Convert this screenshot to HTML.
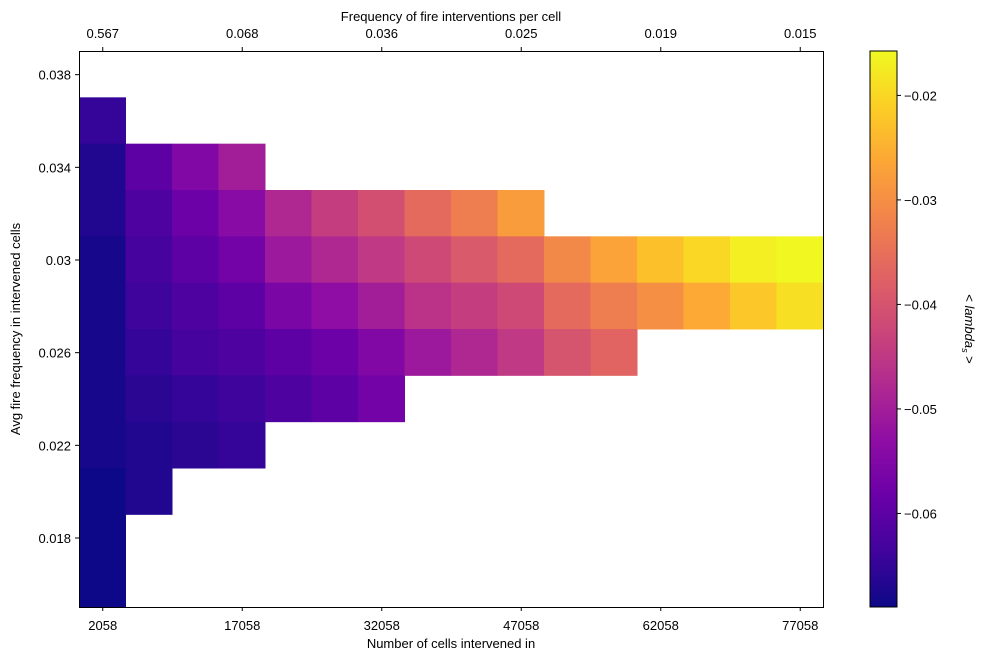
<!DOCTYPE html>
<html><head><meta charset="utf-8"><style>
body{margin:0;background:#fff;}
svg text{font-family:"Liberation Sans",sans-serif;font-size:13px;fill:#000;}
</style></head><body>
<svg id="chart" width="987" height="661" xmlns="http://www.w3.org/2000/svg">
<defs>
<linearGradient id="cbgrad" x1="0" y1="1" x2="0" y2="0">
<stop offset="0" stop-color="#0d0887"/><stop offset="0.1" stop-color="#41049d"/><stop offset="0.2" stop-color="#6a00a8"/><stop offset="0.3" stop-color="#8f0da4"/><stop offset="0.4" stop-color="#b12a90"/><stop offset="0.5" stop-color="#cc4778"/><stop offset="0.6" stop-color="#e16462"/><stop offset="0.7" stop-color="#f2844b"/><stop offset="0.8" stop-color="#fca636"/><stop offset="0.9" stop-color="#fcce25"/><stop offset="1" stop-color="#f0f921"/>
</linearGradient>
</defs>
<g id="cells"></g>
<rect x="79.5" y="51.5" width="744" height="556" fill="none" stroke="#000" stroke-width="1"/>
<g id="axes"></g>
<text x="451" y="648" text-anchor="middle">Number of cells intervened in</text>
<text x="451" y="21" text-anchor="middle">Frequency of fire interventions per cell</text>
<text transform="translate(20,329) rotate(-90)" text-anchor="middle">Avg fire frequency in intervened cells</text>
<rect x="870" y="51" width="27" height="556" fill="url(#cbgrad)" stroke="#000" stroke-width="1"/>
<g id="cbaxis"></g>
<text transform="translate(965,329) rotate(90)" text-anchor="middle">&lt; <tspan font-style="italic">lambda</tspan><tspan font-style="italic" font-size="9" dy="3">s</tspan><tspan dy="-3"> &gt;</tspan></text>
</svg>
<script>
const xCenters=[2058,7058,12058,17058,22058,27058,32058,37058,42058,47058,52058,57058,62058,67058,72058,77058];
const xTicks=[2058,17058,32058,47058,62058,77058];
const topTickLabels=["0.567","0.068","0.036","0.025","0.019","0.015"];
const yTicks=[0.018,0.022,0.026,0.03,0.034,0.038];
const yTickLabels=["0.018","0.022","0.026","0.03","0.034","0.038"];
const cbTicks=[-0.02,-0.03,-0.04,-0.05,-0.06];
// per column: top row value (y) and values going downward
const colTopY=[0.036,0.034,0.034,0.034,0.032,0.032,0.032,0.032,0.032,0.032,0.030,0.030,0.030,0.030,0.030,0.030];
const colValues=[
[-0.065,-0.067,-0.067,-0.068,-0.068,-0.068,-0.068,-0.068,-0.069,-0.069,-0.069],
[-0.060,-0.062,-0.063,-0.064,-0.065,-0.066,-0.067,-0.067],
[-0.055,-0.058,-0.060,-0.062,-0.063,-0.065,-0.066],
[-0.050,-0.054,-0.057,-0.060,-0.062,-0.064,-0.065],
[-0.048,-0.051,-0.056,-0.060,-0.062],
[-0.044,-0.048,-0.053,-0.058,-0.060],
[-0.041,-0.045,-0.050,-0.055,-0.057],
[-0.036,-0.042,-0.046,-0.051],
[-0.033,-0.039,-0.044,-0.048],
[-0.028,-0.036,-0.042,-0.045],
[-0.031,-0.036,-0.040],
[-0.027,-0.033,-0.037],
[-0.023,-0.030],
[-0.020,-0.026],
[-0.017,-0.022],
[-0.016,-0.019]];
const vmin=-0.069,vmax=-0.0158;
const X0=79,X1=823,Y0=51,Y1=607;
const xMin=-442,xMax=79558,yMin=0.015,yMax=0.039;
const sx=v=>X0+(v-xMin)/(xMax-xMin)*(X1-X0);
const sy=v=>Y1-(v-yMin)/(yMax-yMin)*(Y1-Y0);
const sc=v=>Y1-(v-vmin)/(vmax-vmin)*(Y1-Y0);
const stops=["#0d0887","#41049d","#6a00a8","#8f0da4","#b12a90","#cc4778","#e16462","#f2844b","#fca636","#fcce25","#f0f921"];
function plasma(t){t=Math.max(0,Math.min(1,t));const p=t*10,i=Math.min(9,Math.floor(p)),f=p-i;
const a=stops[i],b=stops[i+1];const h=(s,k)=>parseInt(s.substr(1+2*k,2),16);
return "rgb("+[0,1,2].map(k=>Math.round(h(a,k)+(h(b,k)-h(a,k))*f)).join(",")+")";}
const NS="http://www.w3.org/2000/svg";
const cells=document.getElementById('cells');
const dx=5000,dy=0.002;
colValues.forEach((vals,c)=>{vals.forEach((v,r)=>{
const yv=colTopY[c]-r*dy;
const el=document.createElementNS(NS,'rect');
const x=sx(xCenters[c]-dx/2),x2=sx(xCenters[c]+dx/2),y=sy(yv+dy/2),y2=sy(yv-dy/2);
el.setAttribute('x',x);el.setAttribute('y',y);el.setAttribute('width',x2-x+0.5);el.setAttribute('height',y2-y+0.5);
el.setAttribute('fill',plasma((v-vmin)/(vmax-vmin)));


cells.appendChild(el);});});
const axes=document.getElementById('axes');
function line(x1,y1,x2,y2){const l=document.createElementNS(NS,'line');l.setAttribute('x1',x1);l.setAttribute('y1',y1);l.setAttribute('x2',x2);l.setAttribute('y2',y2);l.setAttribute('stroke','#000');


return l;}
function text(x,y,s,anchor,name){const t=document.createElementNS(NS,'text');t.setAttribute('x',x);t.setAttribute('y',y);t.setAttribute('text-anchor',anchor);t.textContent=s;


return t;}
xTicks.forEach((v,i)=>{const x=sx(v)+0.5;
axes.appendChild(line(x,607.5,x,611));
axes.appendChild(text(x,630,String(v),'middle','x-tick-label'));
axes.appendChild(line(x,51.5,x,47));
axes.appendChild(text(x,38,topTickLabels[i],'middle','top-x-tick-label'));});
yTicks.forEach((v,i)=>{const y=sy(v)+0.5;
axes.appendChild(line(79.5,y,75,y));
axes.appendChild(text(71,y+5,yTickLabels[i],'end','y-tick-label'));});
const cb=document.getElementById('cbaxis');
cbTicks.forEach(v=>{const y=sc(v)+0.5;
cb.appendChild(line(897,y,901,y));
cb.appendChild(text(904,y+5,'\u22120.0'+String(Math.round(-v*100)),'start','colorbar-tick-label'));});
</script>
</body></html>
